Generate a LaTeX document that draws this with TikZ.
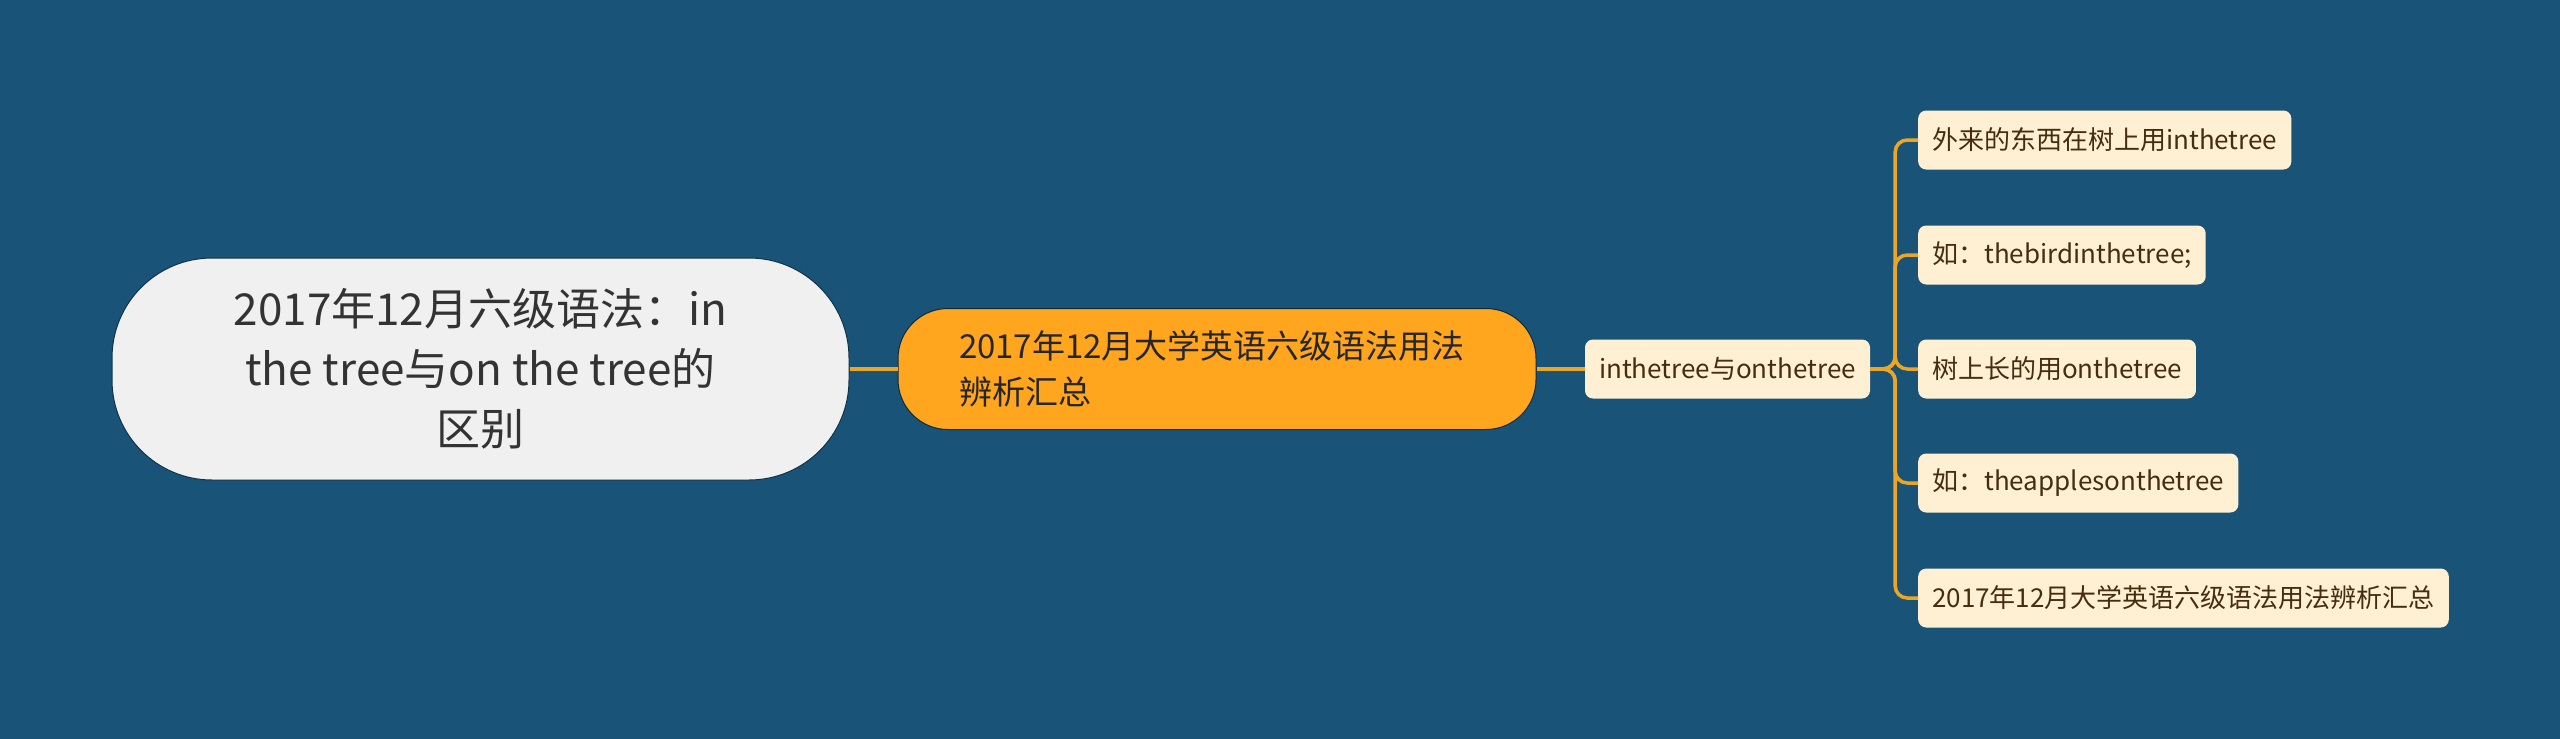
\documentclass[tikz,border=0pt]{standalone}
\usepackage{fontspec}
\setmainfont{Noto Sans CJK SC}
\usepackage{xcolor}
\usetikzlibrary{positioning}
\definecolor{bgblue}{RGB}{25,83,120}
\definecolor{rootgray}{RGB}{240,240,240}
\definecolor{mainorange}{RGB}{255,165,30}
\definecolor{leafcream}{RGB}{255,240,212}
\definecolor{linkorange}{RGB}{236,166,38}
\definecolor{leaftext}{RGB}{70,45,15}

\begin{document}
\begin{tikzpicture}[x=1pt,y=-1pt,
		rootbox/.style={draw=bgblue!60!black, line width=1pt, fill=rootgray, rounded corners=100pt,
			minimum width=737pt, minimum height=222pt, align=center, text=black!80,
			font=\fontsize{44}{60}\selectfont},
		topicbox/.style={draw=bgblue!50!black, line width=1pt, fill=mainorange, rounded corners=50pt,
			minimum width=638pt, minimum height=121pt, text width=516pt, align=left, text=black!85,
			font=\fontsize{33}{46}\selectfont},
		leafbox/.style={fill=leafcream, rounded corners=8pt, anchor=west, inner xsep=14pt,
			minimum height=59pt, text=leaftext, font=\fontsize{26}{30}\selectfont},
		link/.style={draw=linkorange, line width=3.5pt, rounded corners=12pt}]
		\useasboundingbox (0,0) rectangle (2560,739);
		\fill[bgblue] (0,0) rectangle (2560,739);
		\node[rootbox] (root) at (480.5,369) {2017年12月六级语法：in\\the tree与on the tree的\\区别};
		\node[topicbox] (topic) at (1217,369) {2017年12月大学英语六级语法用法\\辨析汇总};
		\node[leafbox, minimum width=285pt, anchor=center, inner xsep=0pt] (pair) at (1727.5,369) {inthetree与onthetree};
		\node[leafbox] (outside) at (1918,140) {外来的东西在树上用inthetree};
		\node[leafbox] (bird) at (1918,255) {如：thebirdinthetree;};
		\node[leafbox] (grown) at (1918,369) {树上长的用onthetree};
		\node[leafbox] (apple) at (1918,483) {如：theapplesonthetree};
		\node[leafbox] (summary) at (1918,598) {2017年12月大学英语六级语法用法辨析汇总};
		\draw[link] (root.east) -- (topic.west);
		\draw[link] (topic.east) -- (pair.west);
		\foreach \leaf in {outside,bird,grown,apple,summary}
			\draw[link] (pair.east) -- ++(25,0) |- (\leaf.west);
	\end{tikzpicture}
\end{document}
